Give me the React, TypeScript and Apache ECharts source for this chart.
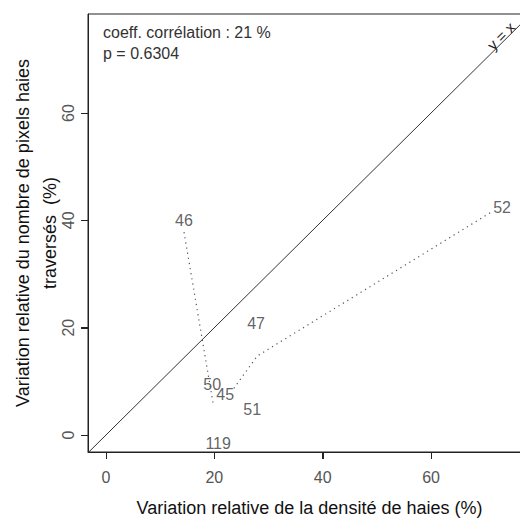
import React, { useEffect, useRef } from "react";
import * as echarts from "echarts";

// axis extents (data units) and ticks
const xMin = -3.32;
const xMax = 78.45;
const yMin = -3.17;
const yMax = 78.45;
const xTicks = [0, 20, 40, 60];
const yTicks = [0, 20, 40, 60];

// labelled points (commune numbers)
const pointNames = ["46", "52", "47", "50", "45", "51", "119"];
const pointX = [14.4, 73.1, 27.7, 19.6, 22.0, 27.0, 20.7];
const pointY = [39.9, 42.4, 20.7, 9.5, 7.5, 4.8, -1.6];

// dotted trajectories
const trail1X = [14.4, 19.75];
const trail1Y = [37.8, 6.0];
const trail2X = [23.6, 27.9, 70.9];
const trail2Y = [8.7, 14.7, 41.4];

const FONT = "'Liberation Sans', Arial, Helvetica, sans-serif";
const TICK_LEN = 7;

export default function App() {
  const ref = useRef<HTMLDivElement>(null);
  useEffect(() => {
    if (!ref.current) return;
    const chart = echarts.init(ref.current, undefined, { renderer: "svg" });
    const pts = pointNames.map((n, i) => ({ name: n, value: [pointX[i], pointY[i]] }));
    const t1 = trail1X.map((x, i) => [x, trail1Y[i]]);
    const t2 = trail2X.map((x, i) => [x, trail2Y[i]]);
    chart.setOption({
      animation: false,
      backgroundColor: "#ffffff",
      textStyle: { fontFamily: FONT },
      grid: {
        left: 88,
        top: 14,
        width: 443,
        height: 438,
        show: true,
        borderColor: "#222",
        borderWidth: 1,
        containLabel: false,
        outerBoundsMode: "none",
      },
      xAxis: {
        type: "value",
        min: xMin,
        max: xMax,
        position: "bottom",
        splitLine: { show: false },
        axisLine: { show: true, onZero: false, lineStyle: { color: "#222", width: 1 } },
        axisTick: { show: true, inside: false, customValues: xTicks, length: TICK_LEN, lineStyle: { color: "#222", width: 1 } },
        axisLabel: { customValues: xTicks, fontSize: 16, color: "#555", margin: 17, fontFamily: FONT },
        name: "Variation relative de la densité de haies (%)",
        nameLocation: "middle",
        nameGap: 47,
        nameMoveOverlap: false,
        nameTextStyle: { fontSize: 18, color: "#111", fontFamily: FONT },
      },
      yAxis: {
        type: "value",
        min: yMin,
        max: yMax,
        position: "left",
        splitLine: { show: false },
        axisLine: { show: true, onZero: false, lineStyle: { color: "#222", width: 1 } },
        axisTick: { show: true, inside: false, customValues: yTicks, length: TICK_LEN, lineStyle: { color: "#222", width: 1 } },
        axisLabel: { customValues: yTicks, fontSize: 16, color: "#555", margin: 12, rotate: 90, fontFamily: FONT },
        name: "Variation relative du nombre de pixels haies\ntraversés  (%)",
        nameLocation: "middle",
        nameGap: 25,
        nameMoveOverlap: false,
        nameRotate: 90,
        nameTextStyle: { fontSize: 18, color: "#111", lineHeight: 27, fontFamily: FONT },
      },
      series: [
        {
          type: "line",
          data: [[xMin, xMin], [xMax, xMax]],
          symbol: "none",
          silent: true,
          lineStyle: { color: "#333", width: 1 },
        },
        {
          type: "line",
          data: t1,
          symbol: "none",
          silent: true,
          lineStyle: { color: "#555", width: 1.2, type: [1.2, 4] },
        },
        {
          type: "line",
          data: t2,
          symbol: "none",
          silent: true,
          lineStyle: { color: "#555", width: 1.2, type: [1.2, 4] },
        },
        {
          type: "scatter",
          data: pts,
          symbolSize: 0,
          silent: true,
          label: {
            show: true,
            position: "inside",
            formatter: "{b}",
            fontSize: 16,
            color: "#3a3a3a",
            fontFamily: FONT,
          },
        },
      ],
    });

    // tick marks placed through the chart's own scales
    const tickEls: any[] = [];
    xTicks.forEach((v) => {
      const p = chart.convertToPixel({ gridIndex: 0 }, [v, yMin]) as number[];
      if (!p) return;
      const x = Math.round(p[0]) + 0.5;
      const y = Math.round(p[1]);
      tickEls.push({
        type: "line",
        silent: true,
        z: 100,
        shape: { x1: x, y1: y, x2: x, y2: y + TICK_LEN },
        style: { stroke: "#222", lineWidth: 1 },
      });
    });
    yTicks.forEach((v) => {
      const p = chart.convertToPixel({ gridIndex: 0 }, [xMin, v]) as number[];
      if (!p) return;
      const x = Math.round(p[0]);
      const y = Math.round(p[1]) + 0.5;
      tickEls.push({
        type: "line",
        silent: true,
        z: 100,
        shape: { x1: x - TICK_LEN, y1: y, x2: x, y2: y },
        style: { stroke: "#222", lineWidth: 1 },
      });
    });

    chart.setOption({
      graphic: [
        {
          type: "text",
          left: 103,
          top: 22,
          style: {
            text: "coeff. corrélation : 21 %\np = 0.6304",
            fontSize: 16,
            lineHeight: 21,
            fill: "#333",
            fontFamily: FONT,
          },
        },
        {
          type: "text",
          x: 501,
          y: 36,
          rotation: Math.PI / 4,
          style: {
            text: "y = x",
            fontSize: 15,
            fill: "#222",
            align: "center",
            verticalAlign: "middle",
            fontFamily: FONT,
          },
        },
        ...tickEls,
      ],
    });
    return () => chart.dispose();
  }, []);
  return (
    <div
      ref={ref}
      style={{ position: "absolute", left: 0, top: 0, width: 520, height: 518 }}
    />
  );
}
